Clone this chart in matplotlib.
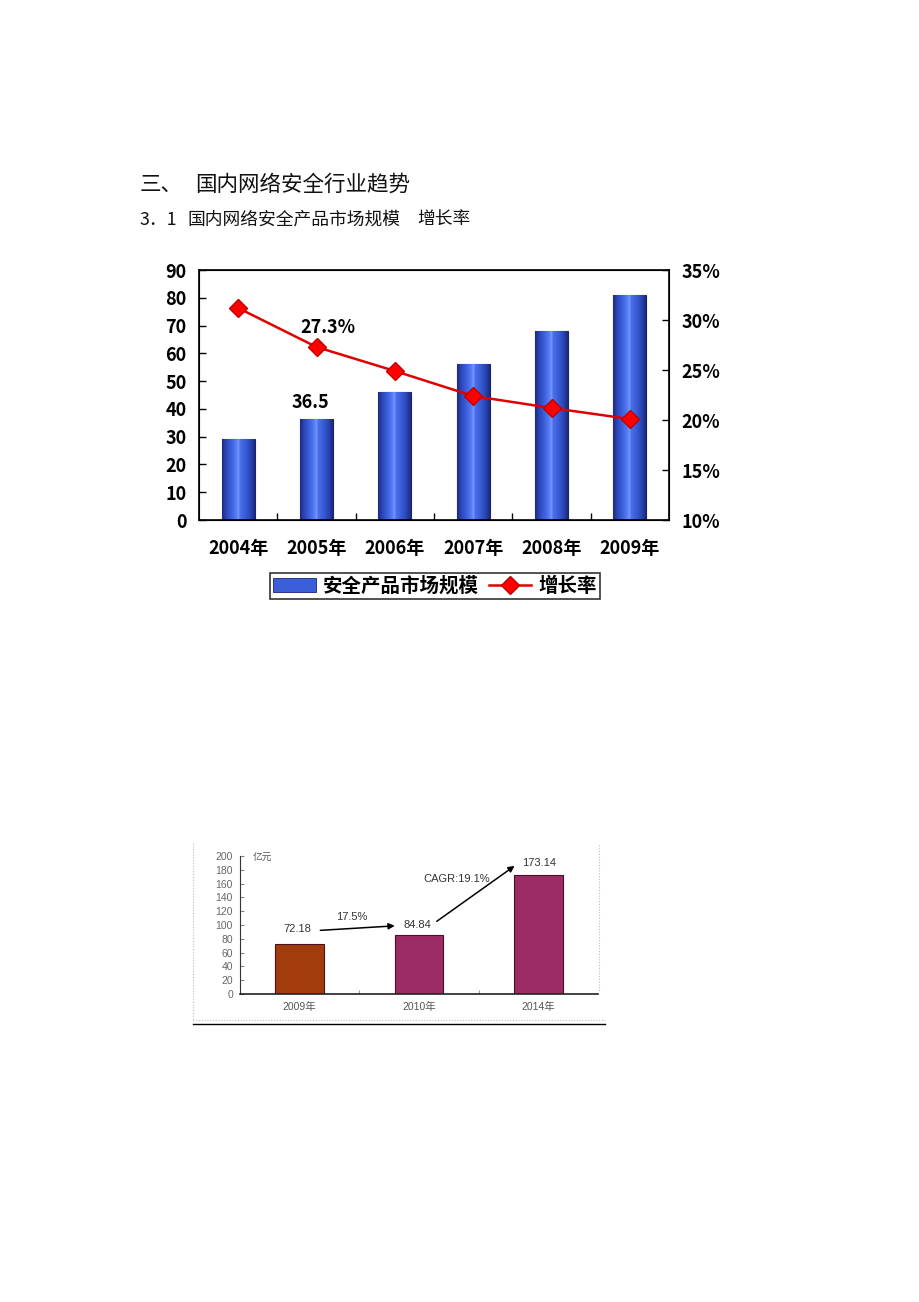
import numpy as np
import matplotlib
matplotlib.use('Agg')
from matplotlib import pyplot as plt
from matplotlib.colors import LinearSegmentedColormap
from matplotlib.lines import Line2D
from matplotlib.patches import Patch

plt.rcParams['font.family'] = ['Noto Sans CJK SC', 'DejaVu Sans']

# chart 1: market size and growth rate
years = ['2004年', '2005年', '2006年', '2007年', '2008年', '2009年']
market_size = [29.0, 36.5, 46.0, 56.0, 68.0, 81.0]
growth_rate = [31.2, 27.3, 24.9, 22.4, 21.2, 20.1]

# chart 2: forecast
years2 = ['2009年', '2010年', '2014年']
size2 = [72.18, 84.84, 173.14]
size2_labels = ['72.18', '84.84', '173.14']

fig = plt.figure(figsize=(9.2, 13.02), dpi=100)

# headings
fig.text(140 / 920, 1 - 185 / 1302, '三、', fontsize=15.5, va='center', ha='left', color='#111111')
fig.text(195 / 920, 1 - 185 / 1302, '国内网络安全行业趋势', fontsize=15.5,
         va='center', ha='left', color='#111111')
fig.text(140 / 920, 1 - 220 / 1302, '3．1', fontsize=12.8, va='center', ha='left', color='#111111')
fig.text(187 / 920, 1 - 220 / 1302, '国内网络安全产品市场规模', fontsize=12.8,
         va='center', ha='left', color='#111111')
fig.text(417 / 920, 1 - 220 / 1302, '增长率', fontsize=12.8, va='center', ha='left', color='#111111')

# ---------- chart 1 ----------
ax = fig.add_axes([199 / 920, 1 - 520 / 1302, 470 / 920, 250 / 1302])
x = np.arange(len(years))
bars = ax.bar(x, market_size, width=0.42, color='#3a5fd9', edgecolor='#1a2370',
              linewidth=0.8, zorder=2)

# cylinder-like shading for the bars
shade = LinearSegmentedColormap.from_list('cyl', [
    (0.0, '#1c2a80'), (0.12, '#2c46b8'), (0.3, '#3f63e0'), (0.45, '#5a82f5'),
    (0.5, '#7a9cff'), (0.55, '#4a70ea'), (0.75, '#3558d2'), (0.9, '#2840a8'),
    (1.0, '#1c2a80')])
grad = np.linspace(0, 1, 64).reshape(1, -1)
for b in bars:
    im = ax.imshow(grad, cmap=shade, aspect='auto', zorder=2.5,
                   extent=[b.get_x(), b.get_x() + b.get_width(), 0, b.get_height()])
    im.set_clip_path(b)

ax.set_xlim(-0.5, len(years) - 0.5)
ax.set_ylim(0, 90)
ax.set_yticks(range(0, 91, 10))
ax.set_xticks(x)
ax.set_xticklabels(years)
ax.set_xticks(np.arange(0.5, len(years) - 0.5, 1), minor=True)
ax.tick_params(axis='x', which='major', length=0, pad=14)
ax.tick_params(axis='x', which='minor', direction='in', length=5, width=1)
ax.tick_params(axis='y', direction='in', length=5, width=1, pad=9)
for lab in ax.get_xticklabels() + ax.get_yticklabels():
    lab.set_fontsize(13)
    lab.set_fontweight('bold')
for s in ax.spines.values():
    s.set_linewidth(1.2)
ax.text(x[1] - 0.08, market_size[1] + 2.2, '36.5', ha='center', va='bottom',
        fontsize=13, fontweight='bold')

ax2 = ax.twinx()
ax2.plot(x, growth_rate, color='#e00000', lw=1.8, marker='D', markersize=9,
         markerfacecolor='#ff0000', markeredgecolor='#c00000', zorder=3)
ax2.set_ylim(10, 35)
ax2.set_yticks(range(10, 36, 5))
ax2.set_yticklabels([f'{v}%' for v in range(10, 36, 5)])
ax2.tick_params(axis='y', direction='in', length=5, width=1, pad=9)
for lab in ax2.get_yticklabels():
    lab.set_fontsize(13)
    lab.set_fontweight('bold')
ax2.text(x[1] + 0.15, growth_rate[1] + 1.0, '27.3%', ha='center', va='bottom',
         fontsize=13, fontweight='bold')

handles = [Patch(facecolor='#3a5fd9', edgecolor='#1a2370', linewidth=0.6),
           Line2D([0], [0], color='#e00000', lw=1.8, marker='D', markersize=9,
                  markerfacecolor='#ff0000', markeredgecolor='#c00000')]
leg = fig.legend(handles, ['安全产品市场规模', '增长率'], ncol=2, loc='center',
                 bbox_to_anchor=(435 / 920, 1 - 586 / 1302), frameon=True,
                 fancybox=False, edgecolor='black', handlelength=2.2,
                 handletextpad=0.35, columnspacing=0.5, borderpad=0.15,
                 prop={'size': 14, 'weight': 'bold'})
leg.get_frame().set_linewidth(1.2)

# ---------- chart 2 ----------
bx = fig.add_axes([240 / 920, 1 - 994 / 1302, 358 / 920, 138 / 1302])
x2 = np.arange(len(years2))
bx.bar(x2, size2, width=0.41, color=['#a33c0c', '#9c2c66', '#9c2c66'],
       edgecolor='#4a1020', linewidth=0.8)
bx.set_xlim(-0.5, len(years2) - 0.5)
bx.set_ylim(0, 200)
bx.set_yticks(range(0, 201, 20))
bx.set_xticks(x2)
bx.set_xticklabels(years2)
bx.set_xticks([0.5, 1.5], minor=True)
bx.tick_params(axis='x', which='major', length=0, pad=6, labelsize=7.5,
               labelcolor='#555555')
bx.tick_params(axis='x', which='minor', direction='in', length=3, color='#888888')
bx.tick_params(axis='y', direction='in', length=3, color='#888888', pad=5,
               labelsize=7.5, labelcolor='#666666')
for lab in bx.get_xticklabels() + bx.get_yticklabels():
    lab.set_family(['Liberation Sans', 'Noto Sans CJK SC'])
bx.spines['top'].set_visible(False)
bx.spines['right'].set_visible(False)
bx.spines['left'].set_color('#333333')
bx.spines['bottom'].set_color('#222222')
bx.spines['bottom'].set_linewidth(1.2)

lab_font = dict(fontsize=8, color='#333333', family=['Liberation Sans', 'Noto Sans CJK SC'])
bx.text(-0.02, 94, size2_labels[0], ha='center', va='center', **lab_font)
bx.text(0.99, 100, size2_labels[1], ha='center', va='center', **lab_font)
bx.text(2.01, 190, size2_labels[2], ha='center', va='center', **lab_font)
bx.text(0.44, 111, '17.5%', ha='center', va='center', **lab_font)
bx.text(1.32, 167, 'CAGR:19.1%', ha='center', va='center', **lab_font)
bx.text(-0.39, 198, '亿元', ha='left', va='center', fontsize=7, color='#555555')

arrow = dict(arrowstyle='-|>', color='black', lw=1.1, mutation_scale=9)
bx.annotate('', xy=(0.82, 99), xytext=(0.15, 92), arrowprops=arrow)
bx.annotate('', xy=(1.82, 188), xytext=(1.13, 103), arrowprops=arrow)

# frame around the second picture
fl = dict(transform=fig.transFigure, color='#bbbbbb', lw=0.8, linestyle=(0, (1, 1.5)))
fig.add_artist(Line2D([193 / 920, 193 / 920], [1 - 843 / 1302, 1 - 1021 / 1302], **fl))
fig.add_artist(Line2D([599 / 920, 599 / 920], [1 - 845 / 1302, 1 - 992 / 1302], **fl))
fig.add_artist(Line2D([193 / 920, 605 / 920], [1 - 1020 / 1302, 1 - 1020 / 1302], **fl))
fig.add_artist(Line2D([193 / 920, 605 / 920], [1 - 1024 / 1302, 1 - 1024 / 1302],
                      transform=fig.transFigure, color='black', lw=1.0))

fig.savefig('out.png', dpi=100)
